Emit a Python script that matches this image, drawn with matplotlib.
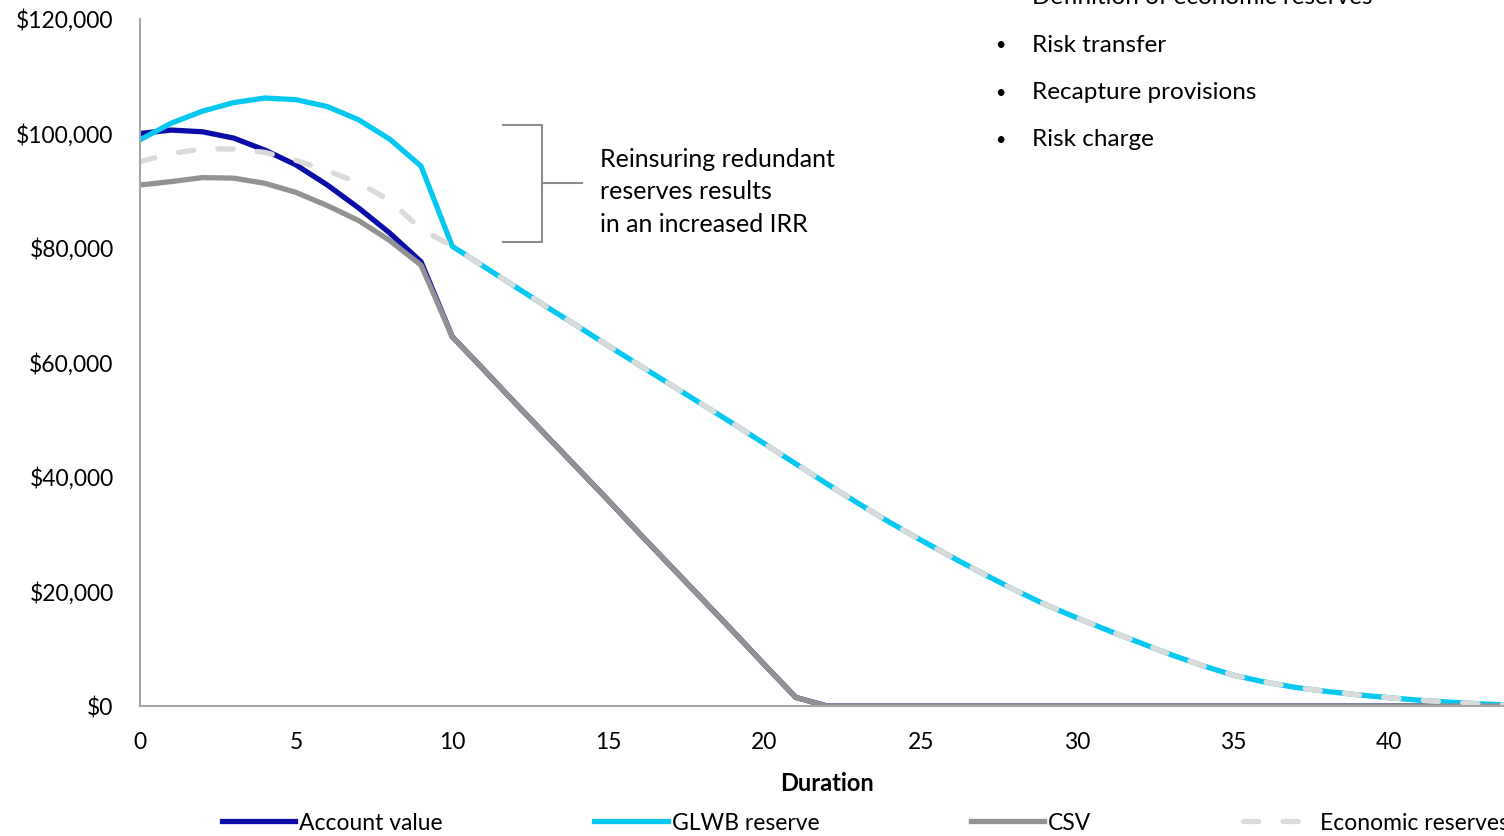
import numpy as np
import matplotlib.pyplot as plt
from matplotlib.ticker import FuncFormatter, MultipleLocator

plt.rcParams['font.family'] = ['Lato', 'DejaVu Sans']

duration = np.arange(0, 45)

# projected values per policy year ($)
account_value = [100000, 100600, 100300, 99200, 97100, 94500, 91000, 87000, 82600, 77600,
                 64500, 58800, 53000, 47300, 41600, 35900, 30100, 24400, 18700, 13000,
                 7200, 1500] + [0] * 23
glwb_reserve = [98900, 101800, 103900, 105400, 106200, 105900, 104700, 102400, 99000, 94300,
                80300, 76800, 73300, 69800, 66400, 62900, 59500, 56100, 52700, 49300,
                45800, 42300, 38800, 35400, 32100, 29000, 26000, 23100, 20300, 17700,
                15400, 13200, 11100, 9000, 7100, 5400, 4200, 3250, 2550, 1950,
                1450, 1000, 650, 350, 150]
csv = [91000, 91600, 92300, 92200, 91300, 89700, 87400, 84800, 81300, 77000,
       64500, 58800, 53000, 47300, 41600, 35900, 30100, 24400, 18700, 13000,
       7200, 1500] + [0] * 23
economic_reserves = [95100, 96500, 97300, 97300, 96700, 95300, 93500, 91400, 88300, 83300] + glwb_reserve[10:]

series_names = ['Account value', 'GLWB reserve', 'CSV', 'Economic reserves']
bullets = ['Definition of economic reserves', 'Risk transfer', 'Recapture provisions', 'Risk charge']
note = 'Reinsuring redundant\nreserves results\nin an increased IRR'

W, H = 1504, 836
fig = plt.figure(figsize=(W / 100, H / 100), dpi=100)
ax = fig.add_axes([140 / W, 130 / H, (1514 - 140) / W, 687 / H])

lw = 3.8
ax.plot(duration, account_value, color='#0c0ca8', lw=lw, label=series_names[0], solid_joinstyle='round')
ax.plot(duration, glwb_reserve, color='#05c8f0', lw=lw, label=series_names[1], solid_joinstyle='round')
ax.plot(duration, csv, color='#929292', lw=lw, label=series_names[2], solid_joinstyle='round')
ax.plot(duration, economic_reserves, color='#dadada', lw=lw, label=series_names[3],
        dashes=(2.9, 4.6), dash_capstyle='round')

ax.set_xlim(0, 44)
ax.set_ylim(0, 120000)
ax.xaxis.set_major_locator(MultipleLocator(5))
ax.yaxis.set_major_locator(MultipleLocator(20000))
ax.yaxis.set_major_formatter(FuncFormatter(lambda v, p: '${:,.0f}'.format(v)))
ax.tick_params(length=0, labelsize=16.5, colors='black')
ax.tick_params(axis='y', pad=19)
ax.tick_params(axis='x', pad=19)
for s in ['top', 'right']:
    ax.spines[s].set_visible(False)
for s in ['left', 'bottom']:
    ax.spines[s].set_color('#a6a6a6')
    ax.spines[s].set_linewidth(1.5)
ax.set_xlabel('Duration', fontsize=17, fontweight='bold')
ax.xaxis.set_label_coords((827 - 140) / (1514 - 140), -66 / 687)

# bracket + note
bx = [11.63, 12.87, 12.87, 11.63]
by = [101500, 101500, 81050, 81050]
ax.plot(bx, by, color='#8c8c8c', lw=1.5, clip_on=False)
ax.plot([12.87, 14.16], [91350, 91350], color='#8c8c8c', lw=1.5, clip_on=False)
ax.text(14.73, 89800, note, fontsize=18, va='center', ha='left', linespacing=1.5)

# bullet list at top right
for i, b in enumerate(bullets):
    y = 1 - (-2.5 + 47.5 * i) / H
    fig.text(1000 / W, y, '\u2022', fontsize=13, va='center', ha='center')
    fig.text(1032 / W, y, b, fontsize=17.5, va='center', ha='left')

fig.legend(loc='center left', bbox_to_anchor=(222 / W, 1 - 823 / H), ncol=4, frameon=False,
           fontsize=16.5, handlelength=3.2, handletextpad=0.18, columnspacing=6.6, borderpad=0,
           borderaxespad=0)

fig.savefig('out.png', dpi=100)
